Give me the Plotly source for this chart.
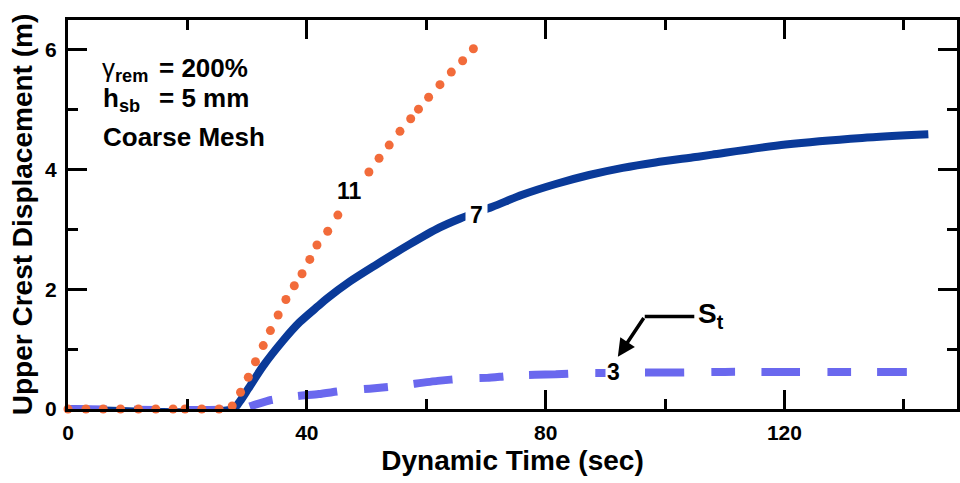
import plotly.graph_objects as go

# Upper crest displacement histories (dynamic time in s, displacement in m)
time_11 = [0, 3.0, 5.9, 8.8, 11.8, 14.7, 17.6, 19.6, 22.4, 25.3, 27.5, 28.9, 30.2,
           31.4, 32.7, 33.9, 35.2, 36.5, 37.9, 39.2, 40.5, 41.7, 43.5, 45.2,
           50.4, 52.1, 53.8, 55.6, 57.4, 58.7, 60.4, 62.3, 64.2, 66.1, 67.9]
disp_11 = [0, 0, 0, 0, 0, 0, 0, 0, 0, 0, 0.05, 0.28, 0.53,
           0.79, 1.06, 1.31, 1.57, 1.83, 2.06, 2.26, 2.50, 2.74, 2.97, 3.24,
           3.96, 4.19, 4.41, 4.64, 4.85, 5.01, 5.21, 5.42, 5.63, 5.82, 6.02]

time_7 = [0, 27.6, 28.8, 30.2, 32.7, 36.0, 38.8, 41.9, 43.3, 47.2, 51.6, 57.2,
          62.2, 65.6, 71.1, 76.1, 81.7, 87.3, 92.9, 98.4, 105.1, 107.9, 120.2,
          133.0, 144.1]
disp_7 = [0, 0, 0.13, 0.34, 0.72, 1.14, 1.45, 1.72, 1.84, 2.13, 2.41, 2.75,
          3.03, 3.18, 3.38, 3.58, 3.76, 3.91, 4.03, 4.12, 4.21, 4.25, 4.42,
          4.53, 4.59]

time_3 = [0, 29.0, 31.0, 34.0, 38.0, 42.0, 46.6, 50.5, 54.7, 61.9, 66.4, 70.2,
          74.7, 81.7, 86.0, 90.0, 94.8, 101.5, 110, 120, 130, 140.5]
disp_3 = [0, 0, 0.06, 0.15, 0.21, 0.25, 0.31, 0.34, 0.38, 0.47, 0.51, 0.52,
          0.56, 0.58, 0.60, 0.60, 0.61, 0.61, 0.62, 0.62, 0.62, 0.62]

x_ticks = [0, 40, 80, 120]
y_ticks = [0, 2, 4, 6]

FONT = "Liberation Sans, Arial, sans-serif"
ORANGE = "#F26B3A"
NAVY = "#0A3A99"
LAVENDER = "#6A68EE"

fig = go.Figure()

fig.add_trace(go.Scatter(
    x=time_7, y=disp_7, mode="lines", cliponaxis=False,
    line=dict(color=NAVY, width=8, shape="spline", smoothing=0.8),
    hoverinfo="skip"))
fig.add_trace(go.Scatter(
    x=time_3, y=disp_3, mode="lines", cliponaxis=False,
    line=dict(color=LAVENDER, width=8, dash="39px,27px,24px,26px",
              shape="spline", smoothing=0.6),
    hoverinfo="skip"))
fig.add_trace(go.Scatter(
    x=time_11, y=disp_11, mode="markers", cliponaxis=False,
    marker=dict(color=ORANGE, size=9, line=dict(width=0)), hoverinfo="skip"))

axis_common = dict(
    showline=True, linecolor="black", linewidth=3, mirror="allticks",
    ticks="inside", ticklen=19, tickwidth=3, tickcolor="black",
    showgrid=False, zeroline=False,
    tickfont=dict(family=FONT, size=21, color="black", weight="bold"),
)

fig.update_xaxes(
    range=[0, 148.9], tickvals=x_ticks, ticklabelstandoff=3,
    minor=dict(dtick=20, tick0=0, ticks="inside", ticklen=10, tickwidth=3,
               tickcolor="black", showgrid=False),
    title=dict(text="Dynamic Time (sec)", standoff=8,
               font=dict(family=FONT, size=28, color="black", weight="bold")),
    **axis_common)
fig.update_yaxes(
    range=[0, 6.5], tickvals=y_ticks, ticklabelstandoff=4,
    minor=dict(dtick=1, tick0=0, ticks="inside", ticklen=10, tickwidth=3,
               tickcolor="black", showgrid=False),
    title=dict(text="Upper Crest Displacement (m)", standoff=5,
               font=dict(family=FONT, size=28, color="black", weight="bold")),
    **axis_common)

# Curve labels (time, displacement)
label_11 = (47.1, 3.635)
label_7 = (68.5, 3.245)
label_3 = (91.3, 0.618)
label_st = (105.2, 1.57)
st_bend = (96.6, 1.547)
st_tip = (92.1, 0.873)
st_end = (104.9, 1.547)

lab_font = dict(family=FONT, size=23, color="black", weight="bold")
fig.add_annotation(x=label_11[0], y=label_11[1], text="11", showarrow=False,
                   font=lab_font)
fig.add_annotation(x=label_7[0], y=label_7[1], text="7", showarrow=False,
                   font=lab_font, bgcolor="white", borderpad=4)
fig.add_annotation(x=label_3[0], y=label_3[1], text="3", showarrow=False,
                   font=lab_font, bgcolor="white", borderpad=1)
fig.add_annotation(x=label_st[0], y=label_st[1], text="S<sub>t</sub>",
                   showarrow=False, xanchor="left", yanchor="middle",
                   font=dict(family=FONT, size=28, color="black", weight="bold"))

# Leader from the S_t label down to curve 3
fig.add_shape(type="line", xref="x", yref="y",
              x0=st_bend[0], y0=st_bend[1], x1=st_end[0], y1=st_end[1],
              line=dict(color="black", width=3.5))
fig.add_annotation(x=st_tip[0], y=st_tip[1], ax=st_bend[0], ay=st_bend[1],
                   axref="x", ayref="y", xref="x", yref="y", text="",
                   showarrow=True, arrowhead=2, arrowsize=1, arrowwidth=3.5,
                   arrowcolor="black", standoff=0)

# Case description block
info_font = dict(family=FONT, size=26, color="black", weight="bold")
fig.add_annotation(xref="paper", yref="paper", x=0.0359, y=0.872,
                   xanchor="left", yanchor="middle", showarrow=False,
                   text="<span style='font-weight:normal'>γ</span><sub>rem</sub>",
                   font=info_font)
fig.add_annotation(xref="paper", yref="paper", x=0.0998, y=0.877,
                   xanchor="left", yanchor="middle", showarrow=False,
                   text="= 200%", font=info_font)
fig.add_annotation(xref="paper", yref="paper", x=0.0370, y=0.795,
                   xanchor="left", yanchor="middle", showarrow=False,
                   text="h<sub>sb</sub>", font=info_font)
fig.add_annotation(xref="paper", yref="paper", x=0.0998, y=0.7995,
                   xanchor="left", yanchor="middle", showarrow=False,
                   text="= 5 mm", font=info_font)
fig.add_annotation(xref="paper", yref="paper", x=0.0370, y=0.700,
                   xanchor="left", yanchor="middle", showarrow=False,
                   text="Coarse Mesh", font=info_font)

fig.update_layout(
    width=960, height=483,
    margin=dict(l=68, r=0, t=20, b=74),
    paper_bgcolor="white", plot_bgcolor="white",
    showlegend=False,
)

fig.write_html("out.html")
